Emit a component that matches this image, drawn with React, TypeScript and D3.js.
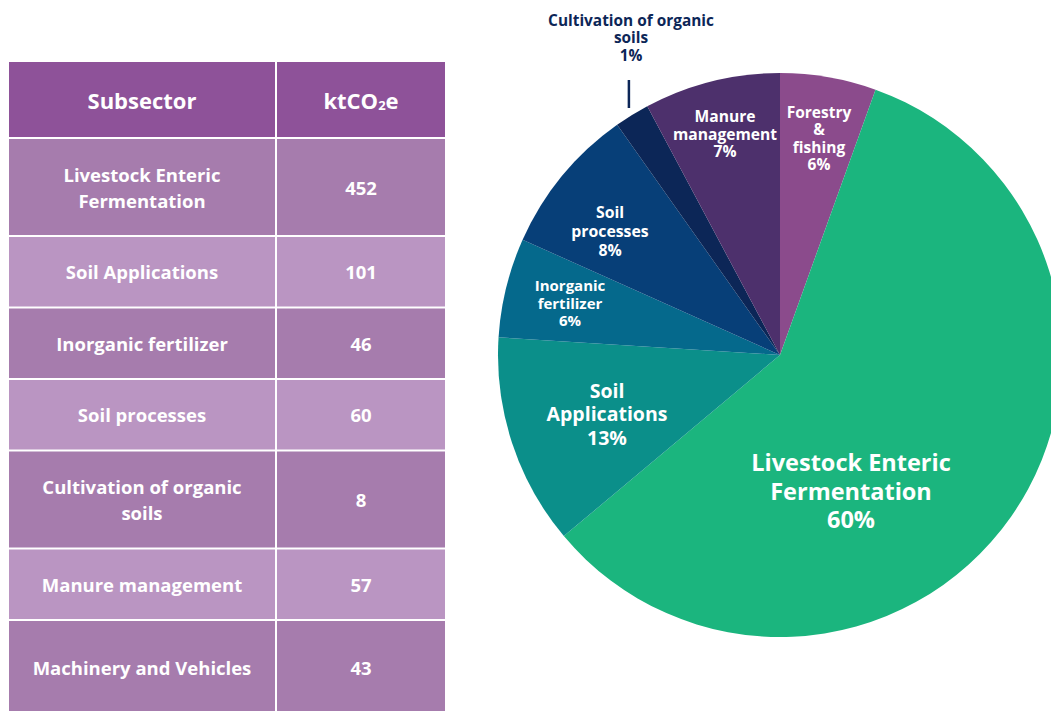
import React from 'react';
import * as d3 from 'd3';

// table data
const subsectors = [
  'Livestock Enteric Fermentation',
  'Soil Applications',
  'Inorganic fertilizer',
  'Soil processes',
  'Cultivation of organic soils',
  'Manure management',
  'Machinery and Vehicles',
];
const subsectorLines = [
  ['Livestock Enteric', 'Fermentation'],
  ['Soil Applications'],
  ['Inorganic fertilizer'],
  ['Soil processes'],
  ['Cultivation of organic', 'soils'],
  ['Manure management'],
  ['Machinery and Vehicles'],
];
const ktCO2e = [452, 101, 46, 60, 8, 57, 43];

// pie data (clockwise from 12 o'clock), shares
const pieNames = [
  'Forestry & fishing',
  'Livestock Enteric Fermentation',
  'Soil Applications',
  'Inorganic fertilizer',
  'Soil processes',
  'Cultivation of organic soils',
  'Manure management',
];
const pieShares = [5.5, 58.4, 12.1, 5.7, 8.5, 2.0, 7.8];
const pieLabels = ['6%', '60%', '13%', '6%', '8%', '1%', '7%'];

const pieColors = ['#8b4b8c', '#1bb57e', '#0b8f8a', '#05698c', '#073f78', '#0c2657', '#4d306c'];

// label layout: offset from pie center, line spacing, font size
const labelLayout = [
  { lines: ['Forestry', '&', 'fishing'], dx: 39, dy: -243, lh: 17.4, fs: 15.5, color: '#fff' },
  { lines: ['Livestock Enteric', 'Fermentation'], dx: 71, dy: 107, lh: 28.5, fs: 23.5, color: '#fff' },
  { lines: ['Soil', 'Applications'], dx: -173, dy: 35, lh: 23.5, fs: 19.5, color: '#fff' },
  { lines: ['Inorganic', 'fertilizer'], dx: -210, dy: -70, lh: 17.5, fs: 15, color: '#fff' },
  { lines: ['Soil', 'processes'], dx: -170, dy: -143, lh: 19, fs: 15.8, color: '#fff' },
  { lines: ['Cultivation of organic', 'soils'], dx: -149, dy: -335, lh: 17.5, fs: 15.4, color: '#0c2657' },
  { lines: ['Manure', 'management'], dx: -55, dy: -239, lh: 17.5, fs: 15.6, color: '#fff' },
];

const FONT = "'Open Sans', 'Noto Sans', sans-serif";

export default function App() {
  const width = 1051;
  const height = 711;

  // table geometry
  const tableX0 = 9, colSplit = 275, tableX1 = 445, gap = 2;
  const headerTop = 62, headerH = 75;
  const rowH = (n: number, last: boolean) => (n === 2 || last ? 96 : 69.5);
  const rowTops: number[] = [];
  let y = headerTop + headerH + gap;
  subsectorLines.forEach((l, i) => {
    rowTops.push(y);
    y += rowH(l.length, i === subsectorLines.length - 1) + gap;
  });
  const col1 = (tableX0 + colSplit) / 2;
  const col2 = (colSplit + gap + tableX1) / 2;

  // pie
  const cx = 780, cy = 355, r = 282;
  const pie = d3.pie<number>().sort(null).value((d) => d)(pieShares);
  const arc = d3.arc<d3.PieArcDatum<number>>().innerRadius(0).outerRadius(r);

  const cult = pie[5];
  const cultMid = (cult.startAngle + cult.endAngle) / 2;
  const edgeX = Math.sin(cultMid) * r;
  const edgeY = -Math.cos(cultMid) * r;

  return (
    <svg width={width} height={height} style={{ position: 'absolute', left: 0, top: 0, background: '#fff' }}
      fontFamily={FONT} fontWeight={700}>
      {/* table header */}
      <rect x={tableX0} y={headerTop} width={colSplit - tableX0} height={headerH} fill="#8e5299" />
      <rect x={colSplit + gap} y={headerTop} width={tableX1 - colSplit - gap} height={headerH} fill="#8e5299" />
      <text x={col1} y={headerTop + headerH / 2} textAnchor="middle" dominantBaseline="central" fill="#fff" fontSize={22}>Subsector</text>
      <text x={col2} y={headerTop + headerH / 2} textAnchor="middle" dominantBaseline="central" fill="#fff" fontSize={22}>
        ktCO<tspan fontSize={13} dy={5}>2</tspan><tspan dy={-5}>e</tspan>
      </text>
      {subsectors.map((s, i) => {
        const lines = subsectorLines[i];
        const h = rowH(lines.length, i === subsectors.length - 1);
        const top = rowTops[i];
        const fill = i % 2 === 0 ? '#a67cad' : '#ba95c2';
        const mid = lines.length === 2 || i < subsectors.length - 1 ? top + h / 2 : top + 46;
        return (
          <g key={s}>
            <rect x={tableX0} y={top} width={colSplit - tableX0} height={h} fill={fill} />
            <rect x={colSplit + gap} y={top} width={tableX1 - colSplit - gap} height={h} fill={fill} />
            {lines.map((l, j) => (
              <text key={l} x={col1} y={mid + (j - (lines.length - 1) / 2) * 26}
                textAnchor="middle" dominantBaseline="central" fill="#fff" fontSize={18.5}>{l}</text>
            ))}
            <text x={col2} y={mid} textAnchor="middle" dominantBaseline="central" fill="#fff" fontSize={18.5}>
              {ktCO2e[i]}
            </text>
          </g>
        );
      })}

      {/* pie */}
      <g transform={`translate(${cx},${cy})`}>
        {pie.map((d, i) => (
          <path key={pieNames[i]} d={arc(d) || ''} fill={pieColors[i]} />
        ))}
        {/* leader for the small slice */}
        <line x1={edgeX - 3} x2={edgeX - 3} y1={edgeY - 35} y2={edgeY - 7}
          stroke="#0c2657" strokeWidth={2.5} />
        {labelLayout.map((lab, i) => {
          const all = [...lab.lines, pieLabels[i]];
          return (
            <g key={pieNames[i]}>
              {all.map((t, j) => (
                <text key={j} x={lab.dx} y={lab.dy + j * lab.lh} textAnchor="middle" dominantBaseline="central"
                  fill={lab.color} fontSize={lab.fs}>{t}</text>
              ))}
            </g>
          );
        })}
      </g>
    </svg>
  );
}
